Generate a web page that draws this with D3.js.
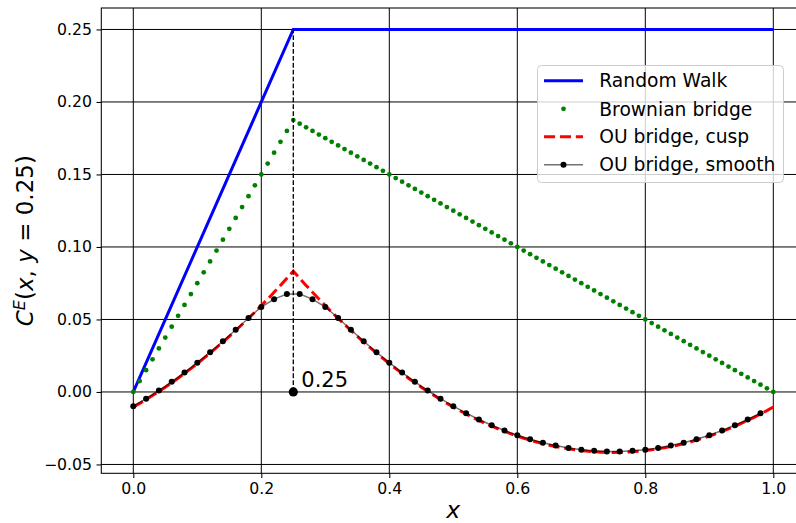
<!DOCTYPE html>
<html>
<head>
<meta charset="utf-8">
<script src="https://cdn.jsdelivr.net/npm/d3@7"></script>
<style>
  body { margin: 0; background: #fff; }
  svg { display: block; }
  text { font-family: "DejaVu Sans", sans-serif; fill: #000; }
</style>
</head>
<body>
<svg id="chart" width="796" height="523"></svg>
<script>
// ---- data -------------------------------------------------------------
// Random walk covariance: rises to the pinned point, then flat
const rwX = [0, 0.25, 1.0];
const rwY = [0, 0.25, 0.25];

// Fine sampling grid (step 0.01)
const fineX = [0,0.01,0.02,0.03,0.04,0.05,0.06,0.07,0.08,0.09,0.1,0.11,0.12,0.13,0.14,0.15,0.16,0.17,0.18,0.19,
  0.2,0.21,0.22,0.23,0.24,0.25,0.26,0.27,0.28,0.29,0.3,0.31,0.32,0.33,0.34,0.35,0.36,0.37,0.38,0.39,
  0.4,0.41,0.42,0.43,0.44,0.45,0.46,0.47,0.48,0.49,0.5,0.51,0.52,0.53,0.54,0.55,0.56,0.57,0.58,0.59,
  0.6,0.61,0.62,0.63,0.64,0.65,0.66,0.67,0.68,0.69,0.7,0.71,0.72,0.73,0.74,0.75,0.76,0.77,0.78,0.79,
  0.8,0.81,0.82,0.83,0.84,0.85,0.86,0.87,0.88,0.89,0.9,0.91,0.92,0.93,0.94,0.95,0.96,0.97,0.98,0.99,1.0];

// Brownian bridge
const bbY = [0,0.0075,0.015,0.0225,0.03,0.0375,0.045,0.0525,0.06,0.0675,0.075,0.0825,0.09,0.0975,0.105,0.1125,
  0.12,0.1275,0.135,0.1425,0.15,0.1575,0.165,0.1725,0.18,0.1875,
  0.185,0.1825,0.18,0.1775,0.175,0.1725,0.17,0.1675,0.165,0.1625,0.16,0.1575,0.155,0.1525,0.15,0.1475,
  0.145,0.1425,0.14,0.1375,0.135,0.1325,0.13,0.1275,0.125,0.1225,0.12,0.1175,0.115,0.1125,0.11,0.1075,
  0.105,0.1025,0.1,0.0975,0.095,0.0925,0.09,0.0875,0.085,0.0825,0.08,0.0775,0.075,0.0725,0.07,0.0675,
  0.065,0.0625,0.06,0.0575,0.055,0.0525,0.05,0.0475,0.045,0.0425,0.04,0.0375,0.035,0.0325,0.03,0.0275,
  0.025,0.0225,0.02,0.0175,0.015,0.0125,0.01,0.0075,0.005,0.0025,0];

// OU bridge with a cusp at the pinned point
const cuspY = [-0.0104,-0.0079,-0.0052,-0.0025,0.0004,0.0033,0.0064,0.0095,0.0128,0.0161,0.0196,0.0231,
  0.0268,0.0305,0.0344,0.0383,0.0424,0.0465,0.0508,0.0551,0.0596,0.0641,0.0688,0.0735,0.0784,0.0833,
  0.0784,0.0735,0.0688,0.0641,0.0596,0.0551,0.0508,0.0465,0.0424,0.0383,0.0344,0.0305,0.0268,0.0231,
  0.0196,0.0161,0.0128,0.0095,0.0064,0.0033,0.0004,-0.0025,-0.0052,-0.0079,-0.0104,-0.0129,-0.0152,
  -0.0175,-0.0196,-0.0217,-0.0236,-0.0255,-0.0272,-0.0289,-0.0304,-0.0319,-0.0332,-0.0345,-0.0356,
  -0.0367,-0.0376,-0.0385,-0.0392,-0.0399,-0.0404,-0.0409,-0.0412,-0.0415,-0.0416,-0.0417,-0.0416,
  -0.0415,-0.0412,-0.0409,-0.0404,-0.0399,-0.0392,-0.0385,-0.0376,-0.0367,-0.0356,-0.0345,-0.0332,
  -0.0319,-0.0304,-0.0289,-0.0272,-0.0255,-0.0236,-0.0217,-0.0196,-0.0175,-0.0152,-0.0129,-0.0104];

// Coarse grid (step 0.02) for the smooth OU bridge
const coarseX = [0,0.02,0.04,0.06,0.08,0.1,0.12,0.14,0.16,0.18,0.2,0.22,0.24,0.26,0.28,0.3,0.32,0.34,0.36,0.38,
  0.4,0.42,0.44,0.46,0.48,0.5,0.52,0.54,0.56,0.58,0.6,0.62,0.64,0.66,0.68,0.7,0.72,0.74,0.76,0.78,
  0.8,0.82,0.84,0.86,0.88,0.9,0.92,0.94,0.96,0.98];
const smoothY = [-0.0098,-0.0046,0.0010,0.0070,0.0134,0.0202,0.0274,0.0350,0.0429,0.0510,0.0586,0.0640,
  0.0676,0.0676,0.0640,0.0586,0.0510,0.0429,0.0350,0.0274,0.0202,0.0134,0.0070,0.0010,-0.0046,-0.0098,
  -0.0146,-0.0190,-0.0230,-0.0266,-0.0298,-0.0326,-0.0350,-0.0370,-0.0386,-0.0398,-0.0406,-0.0410,
  -0.0410,-0.0406,-0.0398,-0.0386,-0.0370,-0.0350,-0.0326,-0.0298,-0.0266,-0.0230,-0.0190,-0.0146];

// Pinned point y = 0.25
const pinX = 0.25;
const pinY = 0;
const pinTop = 0.25;
const pinLabel = "0.25";

const xTicks = [0, 0.2, 0.4, 0.6, 0.8, 1.0];
const yTicks = [-0.05, 0, 0.05, 0.10, 0.15, 0.20, 0.25];

const legendLabels = ["Random Walk", "Brownian bridge", "OU bridge, cusp", "OU bridge, smooth"];

// ---- layout -----------------------------------------------------------
const svg = d3.select("#chart");
const L = 101.3, R = 805.3, T = 8, B = 473.3;

const x = d3.scaleLinear().domain([-0.05, 1.05]).range([L, R]);
const y = d3.scaleLinear().domain([-0.0561, 0.2648]).range([B, T]);

const pts = (xs, ys) => xs.map((v, i) => [v, ys[i]]);
const line = d3.line().x(d => x(d[0])).y(d => y(d[1]));

// grid
const grid = svg.append("g").attr("stroke", "#000").attr("stroke-width", 1);
grid.selectAll("line.v").data(xTicks).join("line")
  .attr("x1", d => x(d)).attr("x2", d => x(d)).attr("y1", T).attr("y2", B);
grid.selectAll("line.h").data(yTicks).join("line")
  .attr("y1", d => y(d)).attr("y2", d => y(d)).attr("x1", L).attr("x2", R);

// series
svg.append("path").datum(pts(rwX, rwY)).attr("d", line)
  .attr("fill", "none").attr("stroke", "#0000ff").attr("stroke-width", 3);

svg.append("g").selectAll("circle").data(pts(fineX, bbY)).join("circle")
  .attr("cx", d => x(d[0])).attr("cy", d => y(d[1])).attr("r", 2.4).attr("fill", "#008000");

svg.append("path").datum(pts(fineX, cuspY)).attr("d", line)
  .attr("fill", "none").attr("stroke", "#ff0000").attr("stroke-width", 3)
  .attr("stroke-dasharray", "11.1,4.8");

svg.append("path").datum(pts(coarseX, smoothY)).attr("d", line)
  .attr("fill", "none").attr("stroke", "#000").attr("stroke-opacity", 0.55).attr("stroke-width", 1.5);
svg.append("g").selectAll("circle").data(pts(coarseX, smoothY)).join("circle")
  .attr("cx", d => x(d[0])).attr("cy", d => y(d[1])).attr("r", 3).attr("fill", "#000");

// pinned point marker
svg.append("line")
  .attr("x1", x(pinX)).attr("x2", x(pinX)).attr("y1", y(pinY)).attr("y2", y(pinTop))
  .attr("stroke", "#000").attr("stroke-width", 1.3).attr("stroke-dasharray", "4.8,2.1");
svg.append("circle").attr("cx", x(pinX)).attr("cy", y(pinY)).attr("r", 4.6).attr("fill", "#000");
svg.append("text").attr("x", x(pinX) + 8).attr("y", y(pinY) - 5.3)
  .attr("font-size", 21).text(pinLabel);

// frame
svg.append("rect").attr("x", L).attr("y", T).attr("width", R - L).attr("height", B - T)
  .attr("fill", "none").attr("stroke", "#000").attr("stroke-width", 1.05);

// axes
const fmtY = d3.format(".2f");
const ax = svg.append("g").attr("transform", `translate(0,${B})`)
  .call(d3.axisBottom(x).tickValues(xTicks).tickFormat(d3.format(".1f")).tickSize(4.8).tickPadding(5));
const ay = svg.append("g").attr("transform", `translate(${L},0)`)
  .call(d3.axisLeft(y).tickValues(yTicks).tickFormat(fmtY).tickSize(4.8).tickPadding(4.5));
[ax, ay].forEach(g => {
  g.select(".domain").remove();
  g.selectAll(".tick line").attr("stroke", "#000").attr("stroke-width", 1.05);
  g.selectAll(".tick text").attr("font-family", "DejaVu Sans").attr("font-size", 15.7).attr("fill", "#000");
});

// axis labels
svg.append("text").attr("x", (L + R) / 2).attr("y", 518.3).attr("text-anchor", "middle")
  .attr("font-size", 23.5).attr("font-style", "italic").text("x");

const yl = svg.append("text").attr("transform", `translate(33,${(T + B) / 2}) rotate(-90)`)
  .attr("text-anchor", "middle").attr("font-size", 23);
yl.append("tspan").attr("font-style", "italic").text("C");
yl.append("tspan").attr("font-style", "italic").attr("font-size", 16).attr("dy", -8).text("E");
yl.append("tspan").attr("dy", 8).text("(");
yl.append("tspan").attr("font-style", "italic").text("x");
yl.append("tspan").text(", ");
yl.append("tspan").attr("font-style", "italic").text("y");
yl.append("tspan").text(" = 0.25)");

// legend
const lg = svg.append("g");
lg.append("rect").attr("x", 537.5).attr("y", 65.5).attr("width", 246).attr("height", 117).attr("rx", 4)
  .attr("fill", "#fff").attr("fill-opacity", 0.8).attr("stroke", "#cccccc").attr("stroke-width", 1);
const rowY = [80.7, 108.8, 136.7, 164.7];
const hx0 = 544, hx1 = 583, hxm = 563.5;
lg.append("line").attr("x1", hx0).attr("x2", hx1).attr("y1", rowY[0]).attr("y2", rowY[0])
  .attr("stroke", "#0000ff").attr("stroke-width", 3);
lg.append("circle").attr("cx", hxm).attr("cy", rowY[1]).attr("r", 2.4).attr("fill", "#008000");
lg.append("line").attr("x1", hx0).attr("x2", hx1).attr("y1", rowY[2]).attr("y2", rowY[2])
  .attr("stroke", "#ff0000").attr("stroke-width", 3).attr("stroke-dasharray", "11.1,4.8");
lg.append("line").attr("x1", hx0).attr("x2", hx1).attr("y1", rowY[3]).attr("y2", rowY[3])
  .attr("stroke", "#000").attr("stroke-opacity", 0.55).attr("stroke-width", 1.5);
lg.append("circle").attr("cx", hxm).attr("cy", rowY[3]).attr("r", 3).attr("fill", "#000");
lg.selectAll("text.lab").data(legendLabels).join("text")
  .attr("x", 599.3).attr("y", (d, i) => rowY[i] + 6.7).attr("font-size", 18.7).text(d => d);
</script>
</body>
</html>
